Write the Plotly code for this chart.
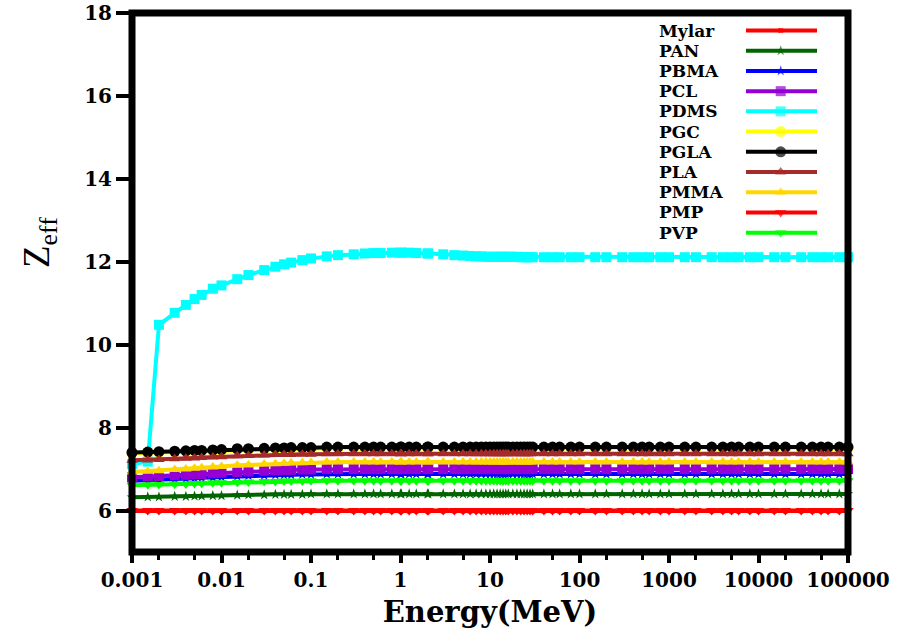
import plotly.graph_objects as go

energy = [0.001, 0.0015, 0.002, 0.003, 0.004, 0.005, 0.006, 0.008, 0.01, 0.015,
          0.02, 0.03, 0.04, 0.05, 0.06, 0.08, 0.1, 0.15, 0.2, 0.3,
          0.4, 0.5, 0.6, 0.8, 1, 1.022, 1.25, 1.5, 2, 2.044,
          3, 4, 5, 6, 7, 8, 9, 10, 11, 12,
          13, 14, 15, 16, 18, 20, 22, 24, 26, 28,
          30, 40, 50, 60, 80, 100, 150, 200, 300, 400,
          500, 600, 800, 1000, 1500, 2000, 3000, 4000, 5000, 6000,
          8000, 10000, 15000, 20000, 30000, 40000, 50000, 60000, 80000, 100000]

mylar = [5.99, 5.99, 5.99, 5.99, 5.99, 5.99, 5.99, 5.99, 5.99, 5.99,
         5.99, 5.99, 5.99, 5.99, 5.99, 5.99, 5.99, 5.99, 5.99, 5.99,
         5.99, 5.99, 5.99, 5.99, 5.99, 5.99, 5.99, 5.99, 5.99, 5.99,
         5.99, 5.99, 5.99, 5.99, 5.99, 5.99, 5.99, 5.99, 5.99, 5.99,
         5.99, 5.99, 5.99, 5.99, 5.99, 5.99, 5.99, 5.99, 5.99, 5.99,
         5.99, 5.99, 5.99, 5.99, 5.99, 5.99, 5.99, 5.99, 5.99, 5.99,
         5.99, 5.99, 5.99, 5.99, 5.99, 5.99, 5.99, 5.99, 5.99, 5.99,
         5.99, 5.99, 5.99, 5.99, 5.99, 5.99, 5.99, 5.99, 5.99, 5.99]

pan = [6.32, 6.33, 6.33, 6.34, 6.34, 6.35, 6.35, 6.36, 6.36, 6.37,
       6.38, 6.38, 6.39, 6.39, 6.39, 6.39, 6.40, 6.40, 6.40, 6.40,
       6.40, 6.40, 6.40, 6.40, 6.40, 6.40, 6.40, 6.40, 6.40, 6.40,
       6.40, 6.40, 6.40, 6.40, 6.40, 6.40, 6.40, 6.40, 6.40, 6.40,
       6.40, 6.40, 6.40, 6.40, 6.40, 6.40, 6.40, 6.40, 6.40, 6.40,
       6.40, 6.40, 6.40, 6.40, 6.40, 6.40, 6.40, 6.40, 6.40, 6.40,
       6.40, 6.40, 6.40, 6.40, 6.40, 6.40, 6.40, 6.40, 6.40, 6.40,
       6.40, 6.40, 6.40, 6.40, 6.40, 6.40, 6.40, 6.40, 6.40, 6.40]

pbma = [6.72, 6.73, 6.74, 6.76, 6.77, 6.78, 6.79, 6.80, 6.81, 6.83,
        6.84, 6.85, 6.86, 6.86, 6.86, 6.87, 6.87, 6.88, 6.88, 6.88,
        6.88, 6.88, 6.88, 6.88, 6.88, 6.88, 6.88, 6.88, 6.88, 6.88,
        6.88, 6.88, 6.88, 6.88, 6.88, 6.88, 6.88, 6.88, 6.88, 6.88,
        6.88, 6.88, 6.88, 6.88, 6.88, 6.88, 6.88, 6.88, 6.88, 6.88,
        6.88, 6.88, 6.88, 6.88, 6.88, 6.88, 6.88, 6.88, 6.88, 6.88,
        6.88, 6.88, 6.88, 6.88, 6.88, 6.88, 6.88, 6.88, 6.88, 6.88,
        6.88, 6.88, 6.88, 6.88, 6.88, 6.88, 6.88, 6.88, 6.88, 6.88]

pcl = [6.80, 6.82, 6.83, 6.85, 6.86, 6.87, 6.88, 6.90, 6.91, 6.93,
       6.94, 6.96, 6.97, 6.98, 6.98, 6.99, 6.99, 7.00, 7.00, 7.00,
       7.00, 7.00, 7.00, 7.00, 7.00, 7.00, 7.00, 7.00, 7.00, 7.00,
       7.00, 7.00, 7.00, 7.00, 7.00, 7.00, 7.00, 7.00, 7.00, 7.00,
       7.00, 7.00, 7.00, 7.00, 7.00, 7.00, 7.00, 7.00, 7.00, 7.00,
       7.00, 7.00, 7.00, 7.00, 7.00, 7.00, 7.00, 7.00, 7.00, 7.00,
       7.00, 7.00, 7.00, 7.00, 7.00, 7.00, 7.00, 7.00, 7.00, 7.00,
       7.00, 7.00, 7.00, 7.00, 7.00, 7.00, 7.00, 7.00, 7.00, 7.00]

pdms = [7.12, 7.18, 10.48, 10.77, 10.96, 11.10, 11.20, 11.35, 11.43, 11.58,
        11.68, 11.80, 11.88, 11.94, 11.98, 12.04, 12.08, 12.13, 12.16, 12.18,
        12.20, 12.21, 12.21, 12.22, 12.22, 12.22, 12.22, 12.21, 12.20, 12.20,
        12.18, 12.16, 12.15, 12.14, 12.13, 12.13, 12.12, 12.12, 12.12, 12.12,
        12.12, 12.12, 12.12, 12.12, 12.12, 12.12, 12.11, 12.11, 12.11, 12.11,
        12.11, 12.11, 12.11, 12.11, 12.11, 12.11, 12.11, 12.11, 12.11, 12.11,
        12.11, 12.11, 12.11, 12.11, 12.11, 12.11, 12.11, 12.11, 12.11, 12.11,
        12.11, 12.11, 12.11, 12.11, 12.11, 12.11, 12.11, 12.11, 12.11, 12.11]

pgc = [7.38, 7.39, 7.40, 7.41, 7.42, 7.43, 7.43, 7.44, 7.45, 7.47,
       7.47, 7.48, 7.49, 7.49, 7.50, 7.50, 7.50, 7.51, 7.51, 7.51,
       7.51, 7.51, 7.51, 7.51, 7.51, 7.51, 7.51, 7.51, 7.51, 7.51,
       7.51, 7.51, 7.51, 7.51, 7.51, 7.51, 7.51, 7.51, 7.51, 7.51,
       7.51, 7.51, 7.51, 7.51, 7.51, 7.51, 7.51, 7.51, 7.51, 7.51,
       7.51, 7.51, 7.51, 7.51, 7.51, 7.51, 7.51, 7.51, 7.51, 7.51,
       7.51, 7.51, 7.51, 7.51, 7.51, 7.51, 7.51, 7.51, 7.51, 7.51,
       7.51, 7.51, 7.51, 7.51, 7.51, 7.51, 7.51, 7.51, 7.51, 7.51]

pgla = [7.40, 7.41, 7.42, 7.43, 7.44, 7.45, 7.45, 7.46, 7.47, 7.49,
        7.49, 7.50, 7.51, 7.51, 7.52, 7.52, 7.52, 7.53, 7.53, 7.53,
        7.53, 7.53, 7.53, 7.53, 7.53, 7.53, 7.53, 7.53, 7.53, 7.53,
        7.53, 7.53, 7.53, 7.53, 7.53, 7.53, 7.53, 7.53, 7.53, 7.53,
        7.53, 7.53, 7.53, 7.53, 7.53, 7.53, 7.53, 7.53, 7.53, 7.53,
        7.53, 7.53, 7.53, 7.53, 7.53, 7.53, 7.53, 7.53, 7.53, 7.53,
        7.53, 7.53, 7.53, 7.53, 7.53, 7.53, 7.53, 7.53, 7.53, 7.53,
        7.53, 7.53, 7.53, 7.53, 7.53, 7.53, 7.53, 7.53, 7.53, 7.53]

pla = [7.21, 7.22, 7.23, 7.25, 7.26, 7.27, 7.28, 7.29, 7.30, 7.32,
       7.33, 7.34, 7.35, 7.35, 7.35, 7.36, 7.36, 7.37, 7.37, 7.37,
       7.37, 7.37, 7.37, 7.37, 7.37, 7.37, 7.37, 7.37, 7.37, 7.37,
       7.37, 7.37, 7.37, 7.37, 7.37, 7.37, 7.37, 7.37, 7.37, 7.37,
       7.37, 7.37, 7.37, 7.37, 7.37, 7.37, 7.37, 7.37, 7.37, 7.37,
       7.37, 7.37, 7.37, 7.37, 7.37, 7.37, 7.37, 7.37, 7.37, 7.37,
       7.37, 7.37, 7.37, 7.37, 7.37, 7.37, 7.37, 7.37, 7.37, 7.37,
       7.37, 7.37, 7.37, 7.37, 7.37, 7.37, 7.37, 7.37, 7.37, 7.37]

pmma = [6.93, 6.95, 6.96, 6.99, 7.00, 7.02, 7.03, 7.05, 7.06, 7.09,
        7.10, 7.12, 7.13, 7.14, 7.15, 7.15, 7.16, 7.17, 7.17, 7.17,
        7.17, 7.17, 7.17, 7.17, 7.17, 7.17, 7.17, 7.17, 7.17, 7.17,
        7.17, 7.17, 7.17, 7.17, 7.17, 7.17, 7.17, 7.17, 7.17, 7.17,
        7.17, 7.17, 7.17, 7.17, 7.17, 7.17, 7.17, 7.17, 7.17, 7.17,
        7.17, 7.17, 7.17, 7.17, 7.17, 7.17, 7.17, 7.17, 7.17, 7.17,
        7.17, 7.17, 7.17, 7.17, 7.17, 7.17, 7.17, 7.17, 7.17, 7.17,
        7.17, 7.17, 7.17, 7.17, 7.17, 7.17, 7.17, 7.17, 7.17, 7.17]

pmp = [6.00, 6.00, 6.00, 6.00, 6.00, 6.00, 6.00, 6.00, 6.00, 6.00,
       6.00, 6.00, 6.00, 6.00, 6.00, 6.00, 6.00, 6.00, 6.00, 6.00,
       6.00, 6.00, 6.00, 6.00, 6.00, 6.00, 6.00, 6.00, 6.00, 6.00,
       6.00, 6.00, 6.00, 6.00, 6.00, 6.00, 6.00, 6.00, 6.00, 6.00,
       6.00, 6.00, 6.00, 6.00, 6.00, 6.00, 6.00, 6.00, 6.00, 6.00,
       6.00, 6.00, 6.00, 6.00, 6.00, 6.00, 6.00, 6.00, 6.00, 6.00,
       6.00, 6.00, 6.00, 6.00, 6.00, 6.00, 6.00, 6.00, 6.00, 6.00,
       6.00, 6.00, 6.00, 6.00, 6.00, 6.00, 6.00, 6.00, 6.00, 6.00]

pvp = [6.61, 6.62, 6.63, 6.64, 6.64, 6.65, 6.66, 6.67, 6.67, 6.68,
       6.69, 6.70, 6.70, 6.71, 6.71, 6.71, 6.72, 6.72, 6.72, 6.72,
       6.72, 6.72, 6.72, 6.72, 6.72, 6.72, 6.72, 6.72, 6.72, 6.72,
       6.72, 6.72, 6.72, 6.72, 6.72, 6.72, 6.72, 6.72, 6.72, 6.72,
       6.72, 6.72, 6.72, 6.72, 6.72, 6.72, 6.72, 6.72, 6.72, 6.72,
       6.72, 6.72, 6.72, 6.72, 6.72, 6.72, 6.72, 6.72, 6.72, 6.72,
       6.72, 6.72, 6.72, 6.72, 6.72, 6.72, 6.72, 6.72, 6.72, 6.72,
       6.72, 6.72, 6.72, 6.72, 6.72, 6.72, 6.72, 6.72, 6.72, 6.72]

names = ["Mylar", "PAN", "PBMA", "PCL", "PDMS", "PGC", "PGLA", "PLA", "PMMA", "PMP", "PVP"]
series = [mylar, pan, pbma, pcl, pdms, pgc, pgla, pla, pmma, pmp, pvp]
colors = ["#ff0000", "#006400", "#0000ff", "#9400d3", "#00ffff", "#ffff00",
          "#000000", "#a52a2a", "#ffd700", "#ff0000", "#00ff00"]
symbols = ["square", "star", "star", "square", "square", "circle",
           "circle", "triangle-up", "triangle-up", "triangle-down", "triangle-down"]
sizes = [5, 8, 8, 10, 10, 11, 11, 10, 10, 10, 10]

x_tickvals = [0.001, 0.01, 0.1, 1, 10, 100, 1000, 10000, 100000]
x_ticktext = ["0.001", "0.01", "0.1", "1", "10", "100", "1000", "10000", "100000"]
x_minorvals = [m * d for d in [0.001, 0.01, 0.1, 1, 10, 100, 1000, 10000] for m in (2, 5)]
y_tickvals = [6, 8, 10, 12, 14, 16, 18]

TICKFONT = dict(family="DejaVu Serif", size=20, color="black", weight="bold")

fig = go.Figure()
for name, vals, col, sym, sz in zip(names, series, colors, symbols, sizes):
    fig.add_trace(go.Scatter(
        x=energy, y=vals, name=name, mode="lines+markers",
        line=dict(color=col, width=4),
        marker=dict(symbol=sym, size=sz, color=col, line=dict(width=0)),
        cliponaxis=False, showlegend=False))

# custom legend (text left, sample right), placed in paper space
row0 = 0.9675
row_step = 0.0375
annotations = []
for i, (name, col, sym, sz) in enumerate(zip(names, colors, symbols, sizes)):
    yr = row0 - i * row_step
    fig.add_trace(go.Scatter(
        x=[0.8575, 0.906, 0.9567], y=[yr, yr, yr], mode="lines+markers",
        xaxis="x2", yaxis="y2",
        line=dict(color=col, width=4),
        marker=dict(symbol=sym, size=[0, sz, 0], color=col, line=dict(width=0)),
        cliponaxis=False, showlegend=False, hoverinfo="skip"))
    annotations.append(dict(
        x=0.733, y=yr, xref="paper", yref="paper", xanchor="left", yanchor="middle",
        text=name, showarrow=False,
        font=dict(family="DejaVu Serif", size=17, color="black", weight="bold")))

annotations.append(dict(
    x=-0.13, y=0.575, xref="paper", yref="paper", xanchor="center", yanchor="middle",
    text="Z<sub>eff</sub>", showarrow=False, textangle=-90,
    font=dict(family="Liberation Serif", size=37, color="black")))

fig.update_layout(
    width=900, height=633,
    margin=dict(l=132, r=52, t=13, b=81, pad=0),
    paper_bgcolor="white", plot_bgcolor="white",
    xaxis=dict(
        type="log", range=[-3, 5], automargin=False,
        tickmode="array", tickvals=x_tickvals, ticktext=x_ticktext,
        ticks="outside", ticklen=10, tickwidth=4, tickcolor="black",
        minor=dict(tickmode="array", tickvals=x_minorvals, ticks="outside",
                   ticklen=7, tickwidth=3, tickcolor="black", showgrid=False),
        showgrid=False, zeroline=False, showline=False,
        tickfont=TICKFONT,
        title=dict(text="Energy(MeV)", standoff=10,
                   font=dict(family="DejaVu Serif", size=29, color="black", weight="bold")),
    ),
    yaxis=dict(
        range=[5, 18], automargin=False,
        tickmode="array", tickvals=y_tickvals,
        ticks="outside", ticklen=15, tickwidth=4, tickcolor="black",
        showgrid=False, zeroline=False, showline=False,
        tickfont=TICKFONT,
    ),
    xaxis2=dict(overlaying="x", range=[0, 1], visible=False, fixedrange=True),
    yaxis2=dict(overlaying="y", range=[0, 1], visible=False, fixedrange=True),
    shapes=[dict(type="rect", xref="paper", yref="paper", x0=0, x1=1, y0=0, y1=1,
                 line=dict(color="black", width=7), layer="above")],
    annotations=annotations,
)

fig.write_html("out.html")
